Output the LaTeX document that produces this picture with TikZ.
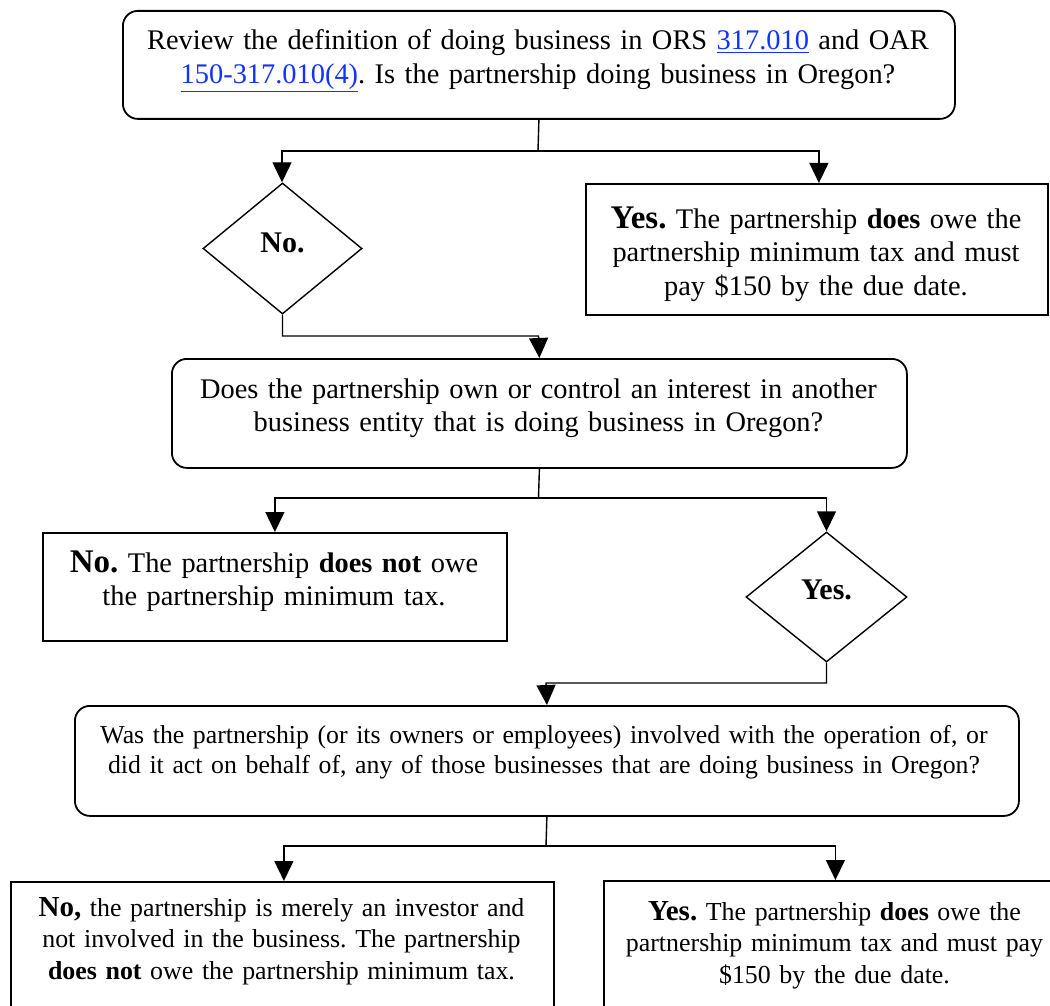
\documentclass[tikz,border=0pt]{standalone}
\usepackage{fontspec}
\setmainfont{Liberation Serif}
\usetikzlibrary{arrows.meta,shapes.geometric}
\definecolor{linkblue}{RGB}{20,50,255}
\newcommand{\lnk}[1]{\textcolor{linkblue}{\underline{#1}}}
\newcommand{\bigA}[1]{{\fontsize{33}{33.5}\selectfont\bfseries #1}}
\newcommand{\bigB}[1]{{\fontsize{29}{31}\selectfont\bfseries #1}}
\frenchspacing
\begin{document}
\begin{tikzpicture}[x=1pt,y=-1pt,
  box/.style={draw, line width=1.8pt, inner sep=0pt, anchor=north west},
  rbox/.style={box, rounded corners=15pt},
  dia/.style={draw, diamond, line width=1.4pt, inner sep=0pt},
  txt/.style={inner sep=0pt, align=center, anchor=base},
  conn/.style={line width=1.4pt, line join=miter},
  arr/.style={conn, -{Triangle[length=20pt,width=19pt]}},
  fA/.style={font=\fontsize{28.4}{33.5}\selectfont},
  fB/.style={font=\fontsize{25.8}{30}\selectfont},
  fC/.style={font=\fontsize{25.9}{31.5}\selectfont},
  fD/.style={font=\fontsize{30}{33}\selectfont\bfseries}
]
\useasboundingbox (0,0) rectangle (1050,1006);
\fill[white] (0,0) rectangle (1050,1006);
\clip (0,0) rectangle (1050,1006);

% boxes
\node[rbox, minimum width=832pt, minimum height=108pt] (q1) at (122,10) {};
\node[box, minimum width=462pt, minimum height=131pt] (y1) at (585,183) {};
\node[dia, minimum width=159pt, minimum height=131pt] (d1) at (282.5,248.5) {};
\node[rbox, minimum width=735pt, minimum height=109pt] (q2) at (171,358) {};
\node[box, minimum width=464pt, minimum height=108pt] (n2) at (42,532) {};
\node[dia, minimum width=161pt, minimum height=130pt] (d2) at (826.5,597) {};
\node[rbox, minimum width=944pt, minimum height=110pt] (q3) at (74,705) {};
\node[box, minimum width=543pt, minimum height=150pt] (n3) at (10,881) {};
\node[box, minimum width=463pt, minimum height=150pt] (y3) at (603,880) {};

% texts
\node[txt, fA, text width=820pt] (q1t) at (538,50)
  {Review the definition of doing business in ORS \lnk{317.010} and OAR\\
   \lnk{150-317.010(4)}. Is the partnership doing business in Oregon?};
\node[txt, fA, text width=450pt] (y1t) at (816,228)
  {\bigA{Yes.} The partnership \textbf{does} owe the\\
   partnership minimum tax and must\\
   pay \$150 by the due date.};
\node[txt, fD] (d1t) at (282.5,252) {No.};
\node[txt, fA, text width=720pt] (q2t) at (538.5,398)
  {Does the partnership own or control an interest in another\\
   business entity that is doing business in Oregon?};
\node[txt, fA, text width=450pt] (n2t) at (274,572)
  {\bigA{No.} The partnership \textbf{does not} owe\\
   the partnership minimum tax.};
\node[txt, fD] (d2t) at (826.5,599) {Yes.};
\node[txt, fB, text width=930pt] (q3t) at (544,743)
  {Was the partnership (or its owners or employees) involved with the operation of, or\\
   did it act on behalf of, any of those businesses that are doing business in Oregon?};
\node[txt, fC, text width=530pt] (n3t) at (281.5,916)
  {\bigB{No,} the partnership is merely an investor and\\
   not involved in the business. The partnership\\
   \textbf{does not} owe the partnership minimum tax.};
\node[txt, fC, text width=450pt] (y3t) at (834.5,920)
  {\bigB{Yes.} The partnership \textbf{does} owe the\\
   partnership minimum tax and must pay\\
   \$150 by the due date.};

% connectors
\coordinate (j1) at (538,151);
\draw[conn] (q1.south) -- (j1);
\draw[arr] (j1) -| ([xshift=-0.5pt]d1.north);
\draw[arr] (j1) -| ([xshift=2pt]y1.north);

\coordinate (j2) at (538.5,336);
\draw[arr] (d1.south) |- (j2) -- (q2.north);

\coordinate (j3) at (538.5,498);
\draw[conn] (q2.south) -- (j3);
\draw[arr] (j3) -| (n2.north);
\draw[arr] (j3) -| (d2.north);

\coordinate (j4) at (546,683);
\draw[arr] (d2.south) |- (j4) -- (q3.north);

\coordinate (j5) at (546,846);
\draw[conn] (q3.south) -- (j5);
\draw[arr] (j5) -| ([xshift=1.5pt]n3.north);
\draw[arr] (j5) -| (y3.north);
\end{tikzpicture}
\end{document}
